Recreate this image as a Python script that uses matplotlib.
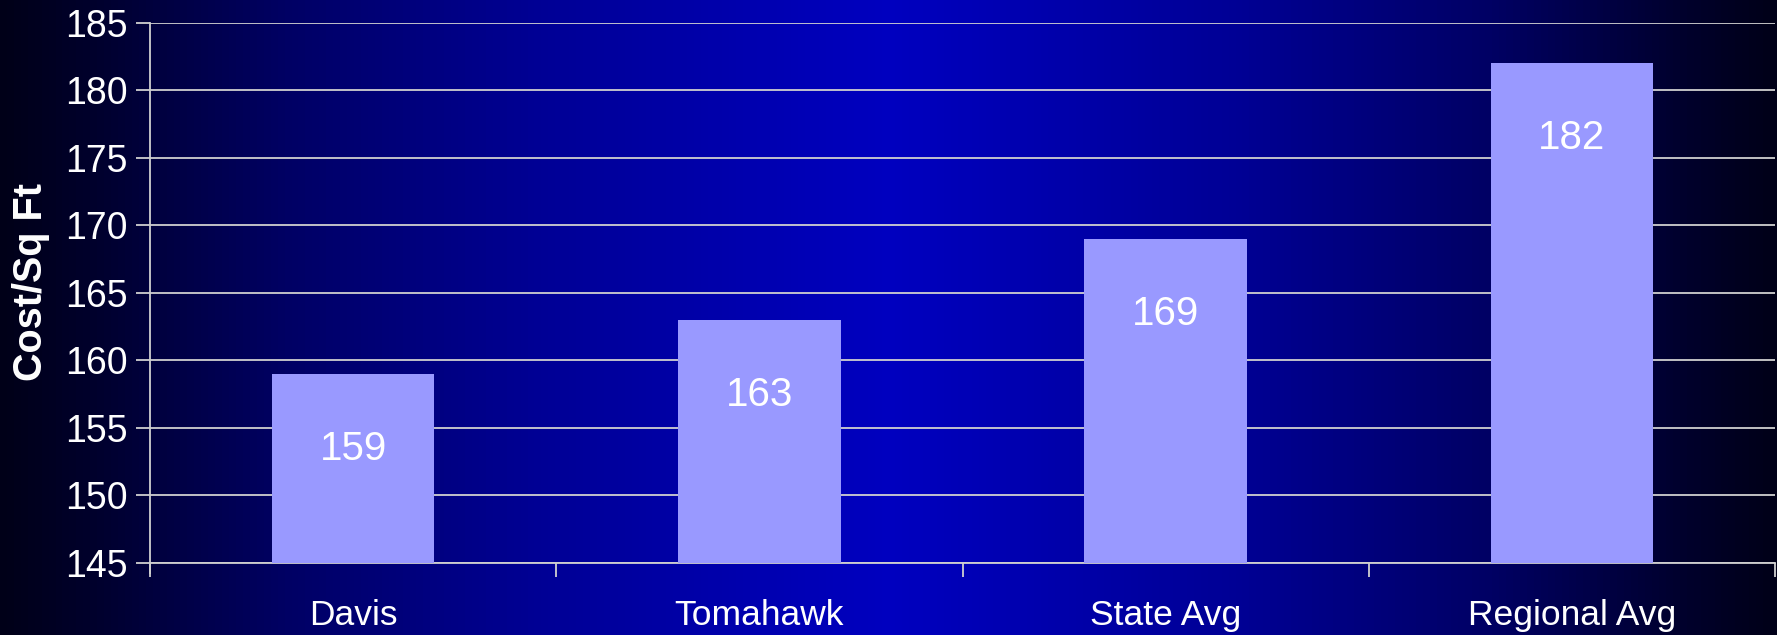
import numpy as np
import matplotlib.pyplot as plt
from matplotlib.colors import LinearSegmentedColormap

# data
categories = ["Davis", "Tomahawk", "State Avg", "Regional Avg"]
costs = [159, 163, 169, 182]
y_ticks = [145, 150, 155, 160, 165, 170, 175, 180, 185]

plt.rcParams["font.family"] = ["Liberation Sans", "DejaVu Sans"]

fig = plt.figure(figsize=(17.77, 6.35), dpi=100)

# horizontal background gradient: dark edges, bright blue center
bg = fig.add_axes([0, 0, 1, 1], zorder=-10)
cmap = LinearSegmentedColormap.from_list(
    "bg",
    [(0.0, "#000018"), (0.05, "#00002c"), (0.16, "#000064"),
     (0.30, "#000094"), (0.5, "#0000C0"), (0.70, "#000094"),
     (0.84, "#000064"), (0.95, "#00002c"), (1.0, "#000018")],
)
bg.imshow(np.linspace(0, 1, 512).reshape(1, -1), aspect="auto", cmap=cmap,
          extent=[0, 1, 0, 1])
bg.axis("off")

ax = fig.add_axes([0.0844, 0.1134, 0.9145, 0.8504])
ax.patch.set_alpha(0)

x = np.arange(len(categories))
ax.bar(x, costs, width=0.4, color="#9999FF", zorder=3)

for xi, v in zip(x, costs):
    ax.annotate(str(v), (xi, v), xytext=(0, -54), textcoords="offset points",
                ha="center", va="center", color="white", fontsize=29, zorder=4)

ax.set_ylim(145, 185)
ax.set_xlim(-0.5, 3.5)
ax.set_yticks(y_ticks)
ax.yaxis.grid(True, color="#d0d0d0", linewidth=1.3, zorder=1)
ax.set_axisbelow(True)

ax.set_xticks(x)
ax.set_xticklabels(categories)
ax.set_xticks(np.arange(-0.5, 4.0, 1.0), minor=True)
ax.tick_params(axis="x", which="major", length=0, pad=26, labelsize=25.5,
               labelcolor="white")
ax.tick_params(axis="x", which="minor", length=10, width=1.3, color="#d0d0d0")
ax.tick_params(axis="y", length=10, width=1.3, color="#d0d0d0",
               labelsize=27, labelcolor="white", pad=6)

for s in ["top", "right"]:
    ax.spines[s].set_visible(False)
for s in ["left", "bottom"]:
    ax.spines[s].set_color("#d0d0d0")
    ax.spines[s].set_linewidth(1.3)
ax.spines["left"].set_bounds(145 - 10 * 40 / 540, 185)

ax.set_ylabel("Cost/Sq Ft", color="white", fontsize=28.5, fontweight="bold",
              va="center")
ax.yaxis.set_label_coords(-0.073, 0.52)

fig.savefig("out.png", dpi=100)
